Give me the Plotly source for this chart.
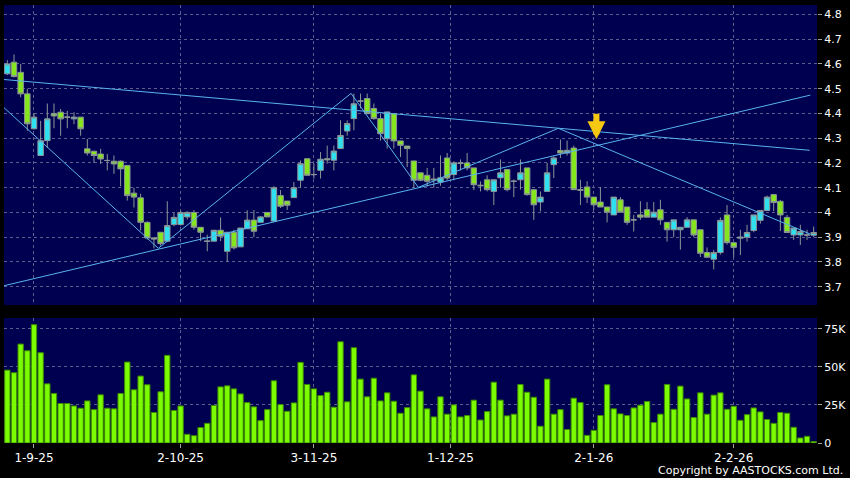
import plotly.graph_objects as go

# daily bars, index 0 .. 121 (trading days)
opens = [4.56, 4.607, 4.566, 4.479, 4.338, 4.23, 4.29, 4.40, 4.405, 4.385,
         4.378, 4.385, 4.257, 4.247, 4.236, 4.21, 4.207, 4.207, 4.19, 4.078,
         4.059, 3.96, 3.897, 3.92, 3.884, 3.951, 3.951, 3.982, 4.0, 3.94,
         3.885, 3.884, 3.928, 3.843, 3.92, 3.861, 3.934, 3.969, 3.96, 4.0,
         3.965, 4.068, 4.046, 4.06, 4.13, 4.217, 4.153, 4.17, 4.217, 4.211,
         4.258, 4.329, 4.379, 4.45, 4.46, 4.42, 4.379, 4.298, 4.399, 4.289,
         4.268, 4.208, 4.16, 4.15, 4.135, 4.123, 4.22, 4.153, 4.198, 4.2,
         4.18, 4.11, 4.132, 4.085, 4.14, 4.173, 4.126, 4.132, 4.18, 4.092,
         4.042, 4.085, 4.193, 4.25, 4.24, 4.26, 4.092, 4.103, 4.062, 4.042,
         4.022, 3.99, 4.051, 4.022, 3.97, 3.99, 4.011, 3.981, 4.011, 3.96,
         3.93, 3.93, 3.94, 3.97, 3.93, 3.838, 3.811, 3.838, 3.99, 3.878,
         3.896, 3.90, 3.927, 3.968, 4.008, 4.072, 4.045, 3.98, 3.909, 3.909,
         3.909, 3.908]
highs = [4.615, 4.638, 4.60, 4.50, 4.40, 4.37, 4.44, 4.44, 4.418, 4.41,
         4.405, 4.385, 4.297, 4.25, 4.257, 4.236, 4.23, 4.21, 4.19, 4.10,
         4.075, 3.964, 3.90, 3.92, 4.045, 3.998, 4.008, 4.005, 4.01, 3.94,
         3.91, 3.93, 3.98, 3.92, 3.93, 3.937, 4.009, 4.01, 3.985, 4.0,
         4.106, 4.09, 4.046, 4.123, 4.21, 4.217, 4.197, 4.244, 4.27, 4.27,
         4.372, 4.372, 4.48, 4.48, 4.48, 4.44, 4.40, 4.406, 4.399, 4.289,
         4.268, 4.208, 4.16, 4.18, 4.18, 4.23, 4.24, 4.207, 4.214, 4.24,
         4.18, 4.125, 4.15, 4.132, 4.214, 4.173, 4.133, 4.214, 4.18, 4.092,
         4.085, 4.2, 4.227, 4.295, 4.29, 4.27, 4.132, 4.126, 4.062, 4.103,
         4.022, 4.062, 4.062, 4.022, 3.99, 4.045, 4.042, 4.042, 4.051, 3.96,
         3.97, 3.94, 3.981, 3.97, 3.93, 3.859, 3.849, 3.98, 4.03, 3.878,
         3.93, 3.95, 3.99, 4.01, 4.068, 4.075, 4.05, 3.99, 3.937, 3.95,
         3.93, 3.943]
lows = [4.555, 4.545, 4.465, 4.33, 4.335, 4.228, 4.26, 4.34, 4.31, 4.34,
        4.357, 4.31, 4.23, 4.20, 4.196, 4.17, 4.156, 4.106, 4.048, 4.02,
        3.927, 3.89, 3.855, 3.866, 3.88, 3.944, 3.947, 3.971, 3.93, 3.884,
        3.843, 3.884, 3.884, 3.80, 3.85, 3.861, 3.934, 3.90, 3.958, 3.982,
        3.961, 4.018, 4.01, 4.06, 4.10, 4.15, 4.137, 4.137, 4.197, 4.17,
        4.258, 4.31, 4.332, 4.42, 4.399, 4.375, 4.29, 4.258, 4.258, 4.224,
        4.183, 4.10, 4.126, 4.105, 4.10, 4.108, 4.13, 4.13, 4.17, 4.17,
        4.09, 4.085, 4.085, 4.03, 4.1, 4.085, 4.062, 4.092, 4.068, 3.97,
        4.004, 4.085, 4.139, 4.22, 4.23, 4.092, 4.03, 4.038, 4.011, 4.022,
        3.96, 3.99, 4.001, 3.95, 3.923, 3.97, 3.981, 3.981, 3.95, 3.882,
        3.90, 3.85, 3.94, 3.90, 3.82, 3.819, 3.77, 3.83, 3.87, 3.819,
        3.828, 3.882, 3.92, 3.955, 4.008, 4.005, 3.925, 3.919, 3.889, 3.869,
        3.889, 3.90]
closes = [4.60, 4.549, 4.479, 4.358, 4.385, 4.29, 4.378, 4.39, 4.378, 4.385,
          4.385, 4.338, 4.24, 4.23, 4.216, 4.21, 4.196, 4.176, 4.068, 4.062,
          3.96, 3.897, 3.893, 3.874, 3.947, 3.98, 4.0, 4.0, 3.94, 3.92,
          3.883, 3.928, 3.904, 3.92, 3.857, 3.937, 3.969, 3.924, 3.982, 3.982,
          4.10, 4.025, 4.029, 4.10, 4.197, 4.15, 4.153, 4.215, 4.213, 4.248,
          4.311, 4.359, 4.439, 4.45, 4.399, 4.379, 4.318, 4.406, 4.289, 4.271,
          4.258, 4.13, 4.13, 4.126, 4.132, 4.14, 4.139, 4.2, 4.2, 4.18,
          4.112, 4.108, 4.092, 4.132, 4.16, 4.092, 4.126, 4.16, 4.072, 4.031,
          4.062, 4.16, 4.22, 4.24, 4.251, 4.092, 4.09, 4.062, 4.031, 4.022,
          4.001, 4.062, 4.001, 3.96, 3.97, 3.981, 3.981, 4.001, 3.97, 3.93,
          3.97, 3.94, 3.97, 3.909, 3.835, 3.819, 3.838, 3.968, 3.878, 3.859,
          3.90, 3.919, 3.99, 4.008, 4.062, 4.04, 3.99, 3.919, 3.937, 3.923,
          3.909, 3.919]
# volume in thousands of shares
volume_k = [47.8, 46.1, 64.9, 60.5, 77.6, 59.2, 38.8, 32.5, 25.9, 25.9,
            24.3, 22.8, 27.6, 21.9, 31.6, 22.8, 22.4, 32.5, 53.1, 34.9,
            43.9, 38.2, 20.0, 33.6, 57.5, 21.3, 24.3, 5.7, 4.8, 10.1,
            12.9, 24.6, 36.8, 37.5, 35.5, 32.2, 26.5, 23.7, 14.7, 21.9,
            40.8, 25.2, 20.8, 26.3, 52.9, 38.4, 35.5, 31.1, 33.3, 23.5,
            66.4, 27.0, 62.5, 41.9, 30.3, 42.5, 27.6, 32.9, 27.4, 19.5,
            23.2, 44.7, 34.0, 22.4, 17.1, 30.3, 18.9, 25.0, 17.1, 18.0,
            28.1, 15.1, 20.6, 39.9, 28.1, 17.8, 18.9, 38.4, 33.3, 30.0,
            11.0, 41.9, 18.9, 21.9, 8.8, 29.4, 26.5, 5.0, 8.3, 18.0,
            38.2, 22.4, 19.1, 18.0, 23.0, 24.8, 27.2, 13.4, 18.9, 38.4,
            22.1, 37.3, 28.9, 16.7, 32.9, 18.9, 31.4, 32.9, 22.1, 24.1,
            14.9, 18.6, 23.0, 20.4, 15.4, 12.9, 20.0, 19.5, 10.3, 3.3,
            4.4, 0.9]

# date labels and the bar they sit on
date_idx = [4, 26, 46, 66.5, 88, 109]
date_labels = ["1-9-25", "2-10-25", "3-11-25", "1-12-25", "2-1-26", "2-2-26"]

price_ticks = [3.7, 3.8, 3.9, 4.0, 4.1, 4.2, 4.3, 4.4, 4.5, 4.6, 4.7, 4.8]
price_labels = ["3.7", "3.8", "3.9", "4", "4.1", "4.2", "4.3", "4.4", "4.5", "4.6", "4.7", "4.8"]
vol_ticks = [0, 25, 50, 75]
vol_labels = ["0", "25K", "50K", "75K"]

# user drawn lines (bar index, price)
line_down_x = [-0.5, 120.4]
line_down_y = [4.537, 4.251]
line_up_x = [-0.5, 120.5]
line_up_y = [3.704, 4.474]
zigzag_x = [-0.5, 22.66, 51.58, 61.68, 82.68, 120.45]
zigzag_y = [4.423, 3.855, 4.481, 4.101, 4.34, 3.913]
arrow_idx = 88.4
arrow_price = 4.296

idx = list(range(len(closes)))

NAVY = "#000050"
GRID = "#5e5e8c"
TREND = "#58b4ee"

fig = go.Figure()

fig.add_trace(go.Candlestick(
    x=idx, open=opens, high=highs, low=lows, close=closes,
    increasing=dict(fillcolor="#2ee0f0", line=dict(color="#8c9696", width=1)),
    decreasing=dict(fillcolor="#86e61e", line=dict(color="#8c9696", width=1)),
    whiskerwidth=0, xaxis="x", yaxis="y", showlegend=False, hoverinfo="skip"
))

for lx, ly in [(line_down_x, line_down_y), (line_up_x, line_up_y), (zigzag_x, zigzag_y)]:
    fig.add_trace(go.Scatter(x=lx, y=ly, mode="lines", line=dict(color=TREND, width=1),
                             xaxis="x", yaxis="y", showlegend=False, hoverinfo="skip"))

fig.add_trace(go.Bar(
    x=idx, y=volume_k, marker=dict(color="#7cfc00", line=dict(color="#3c8c00", width=1)),
    xaxis="x2", yaxis="y2", showlegend=False, hoverinfo="skip"
))

fig.add_annotation(x=arrow_idx, y=arrow_price, xref="x", yref="y", text="",
                   showarrow=True, ax=0, ay=-27, arrowhead=2, arrowsize=0.6,
                   arrowwidth=6, arrowcolor="#f6c812")

fig.add_annotation(x=1.035, y=-0.062, xref="paper", yref="paper", xanchor="right",
                   yanchor="middle", showarrow=False, text="Copyright by AASTOCKS.com Ltd.",
                   font=dict(size=11, color="white"))

xcommon = dict(range=[-0.5, 121.5], showgrid=True, gridcolor=GRID, griddash="3px,3px",
               gridwidth=1, tickvals=date_idx, zeroline=False, showline=False)

fig.update_layout(
    width=850, height=478,
    margin=dict(l=4, r=33, t=5, b=35),
    paper_bgcolor="black", plot_bgcolor=NAVY,
    font=dict(family="DejaVu Sans", color="white", size=11),
    boxgap=0.18, boxgroupgap=0, bargap=0.2,
    xaxis=dict(**xcommon, showticklabels=False, rangeslider=dict(visible=False),
               anchor="y", domain=[0, 1]),
    xaxis2=dict(**xcommon, ticktext=date_labels, ticks="outside", ticklen=4,
                tickcolor="#a0a0a0", tickfont=dict(size=12, color="white"),
                anchor="y2", domain=[0, 1]),
    yaxis=dict(domain=[0.315, 1], range=[3.626, 4.838], side="right",
               tickvals=price_ticks, ticktext=price_labels, ticks="outside",
               ticklen=4, tickcolor="#a0a0a0", showgrid=True, gridcolor=GRID,
               griddash="3px,3px", zeroline=False, anchor="x"),
    yaxis2=dict(domain=[0, 0.2854], range=[0, 82], side="right",
                tickvals=vol_ticks, ticktext=vol_labels, ticks="outside",
                ticklen=4, tickcolor="#a0a0a0", showgrid=True, gridcolor=GRID,
                griddash="3px,3px", zeroline=False, anchor="x2"),
    hovermode=False,
)

fig.write_html("out.html", config={"displayModeBar": False},
               post_script="document.body.style.margin='0';")
